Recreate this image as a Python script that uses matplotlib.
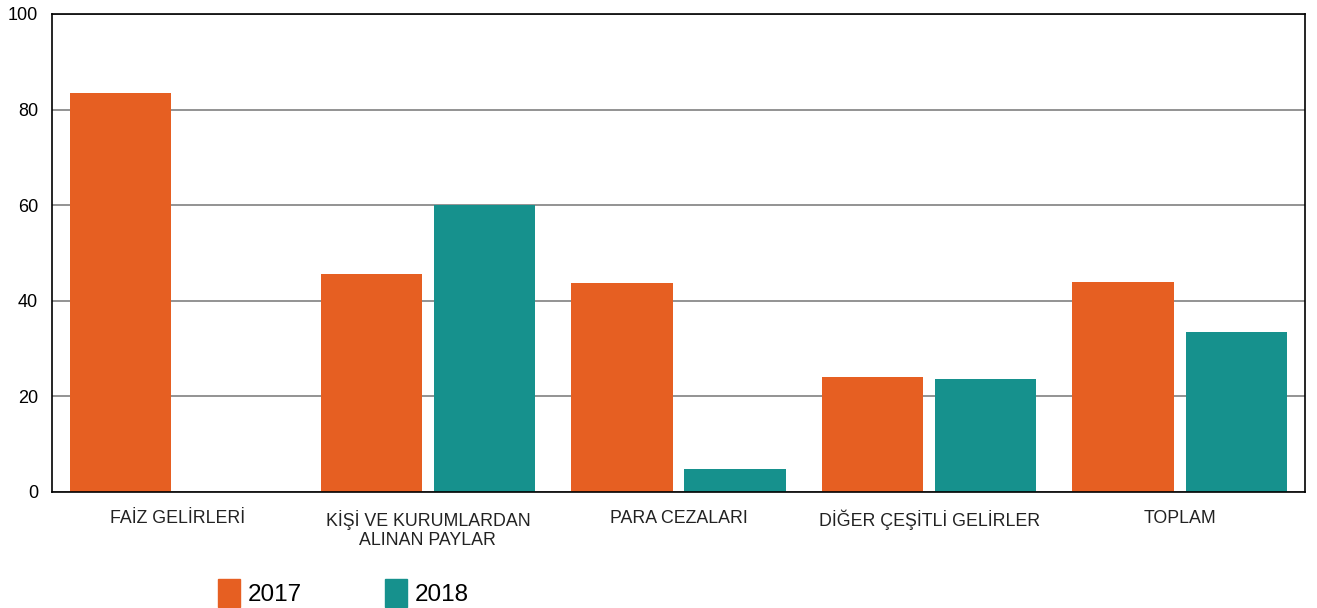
import numpy as np
import matplotlib.pyplot as plt
from matplotlib.patches import Patch

plt.rcParams['font.family'] = ['Liberation Sans', 'DejaVu Sans']

# veriler
kategoriler = ['FAİZ GELİRLERİ', 'KİŞİ VE KURUMLARDAN\nALINAN PAYLAR', 'PARA CEZALARI',
               'DİĞER ÇEŞİTLİ GELİRLER', 'TOPLAM']
yil_2017 = [83.5, 45.6, 43.7, 24.1, 43.9]
yil_2018 = [0, 60.0, 4.8, 23.6, 33.5]

renk_2017 = '#E65F22'
renk_2018 = '#16918D'

fig = plt.figure(figsize=(13.17, 6.08), dpi=100)
ax = fig.add_axes([0.0395, 0.191, 0.9514, 0.786])

x = np.arange(len(kategoriler))
ax.bar(x - 0.226, yil_2017, width=0.405, color=renk_2017, zorder=3)
ax.bar(x + 0.226, yil_2018, width=0.405, color=renk_2018, zorder=3)

ax.set_xlim(-0.5, len(kategoriler) - 0.5)
ax.set_ylim(0, 100)
ax.set_yticks([0, 20, 40, 60, 80, 100])
ax.set_xticks(x)
ax.set_xticklabels(kategoriler, fontsize=12.8, color='#222222', linespacing=1.15)
ax.tick_params(axis='x', length=0, pad=13)
ax.tick_params(axis='y', length=0, pad=10, labelsize=13)
ax.yaxis.grid(True, color='#808080', linewidth=1.2, zorder=0)

for s in ax.spines.values():
    s.set_color('black')
    s.set_linewidth(1.2)
ax.spines['bottom'].set_zorder(4)

tutamak = [Patch(color=renk_2017, label='2017'), Patch(color=renk_2018, label='2018')]
fig.legend(handles=tutamak, loc='upper left', bbox_to_anchor=(218 / 1317, 1 - 579 / 608),
           ncol=2, frameon=False, fontsize=17.5, handlelength=0.9, handleheight=1.4,
           handletextpad=0.33, columnspacing=3.4, borderpad=0, borderaxespad=0)

fig.savefig('out.png', dpi=100)
